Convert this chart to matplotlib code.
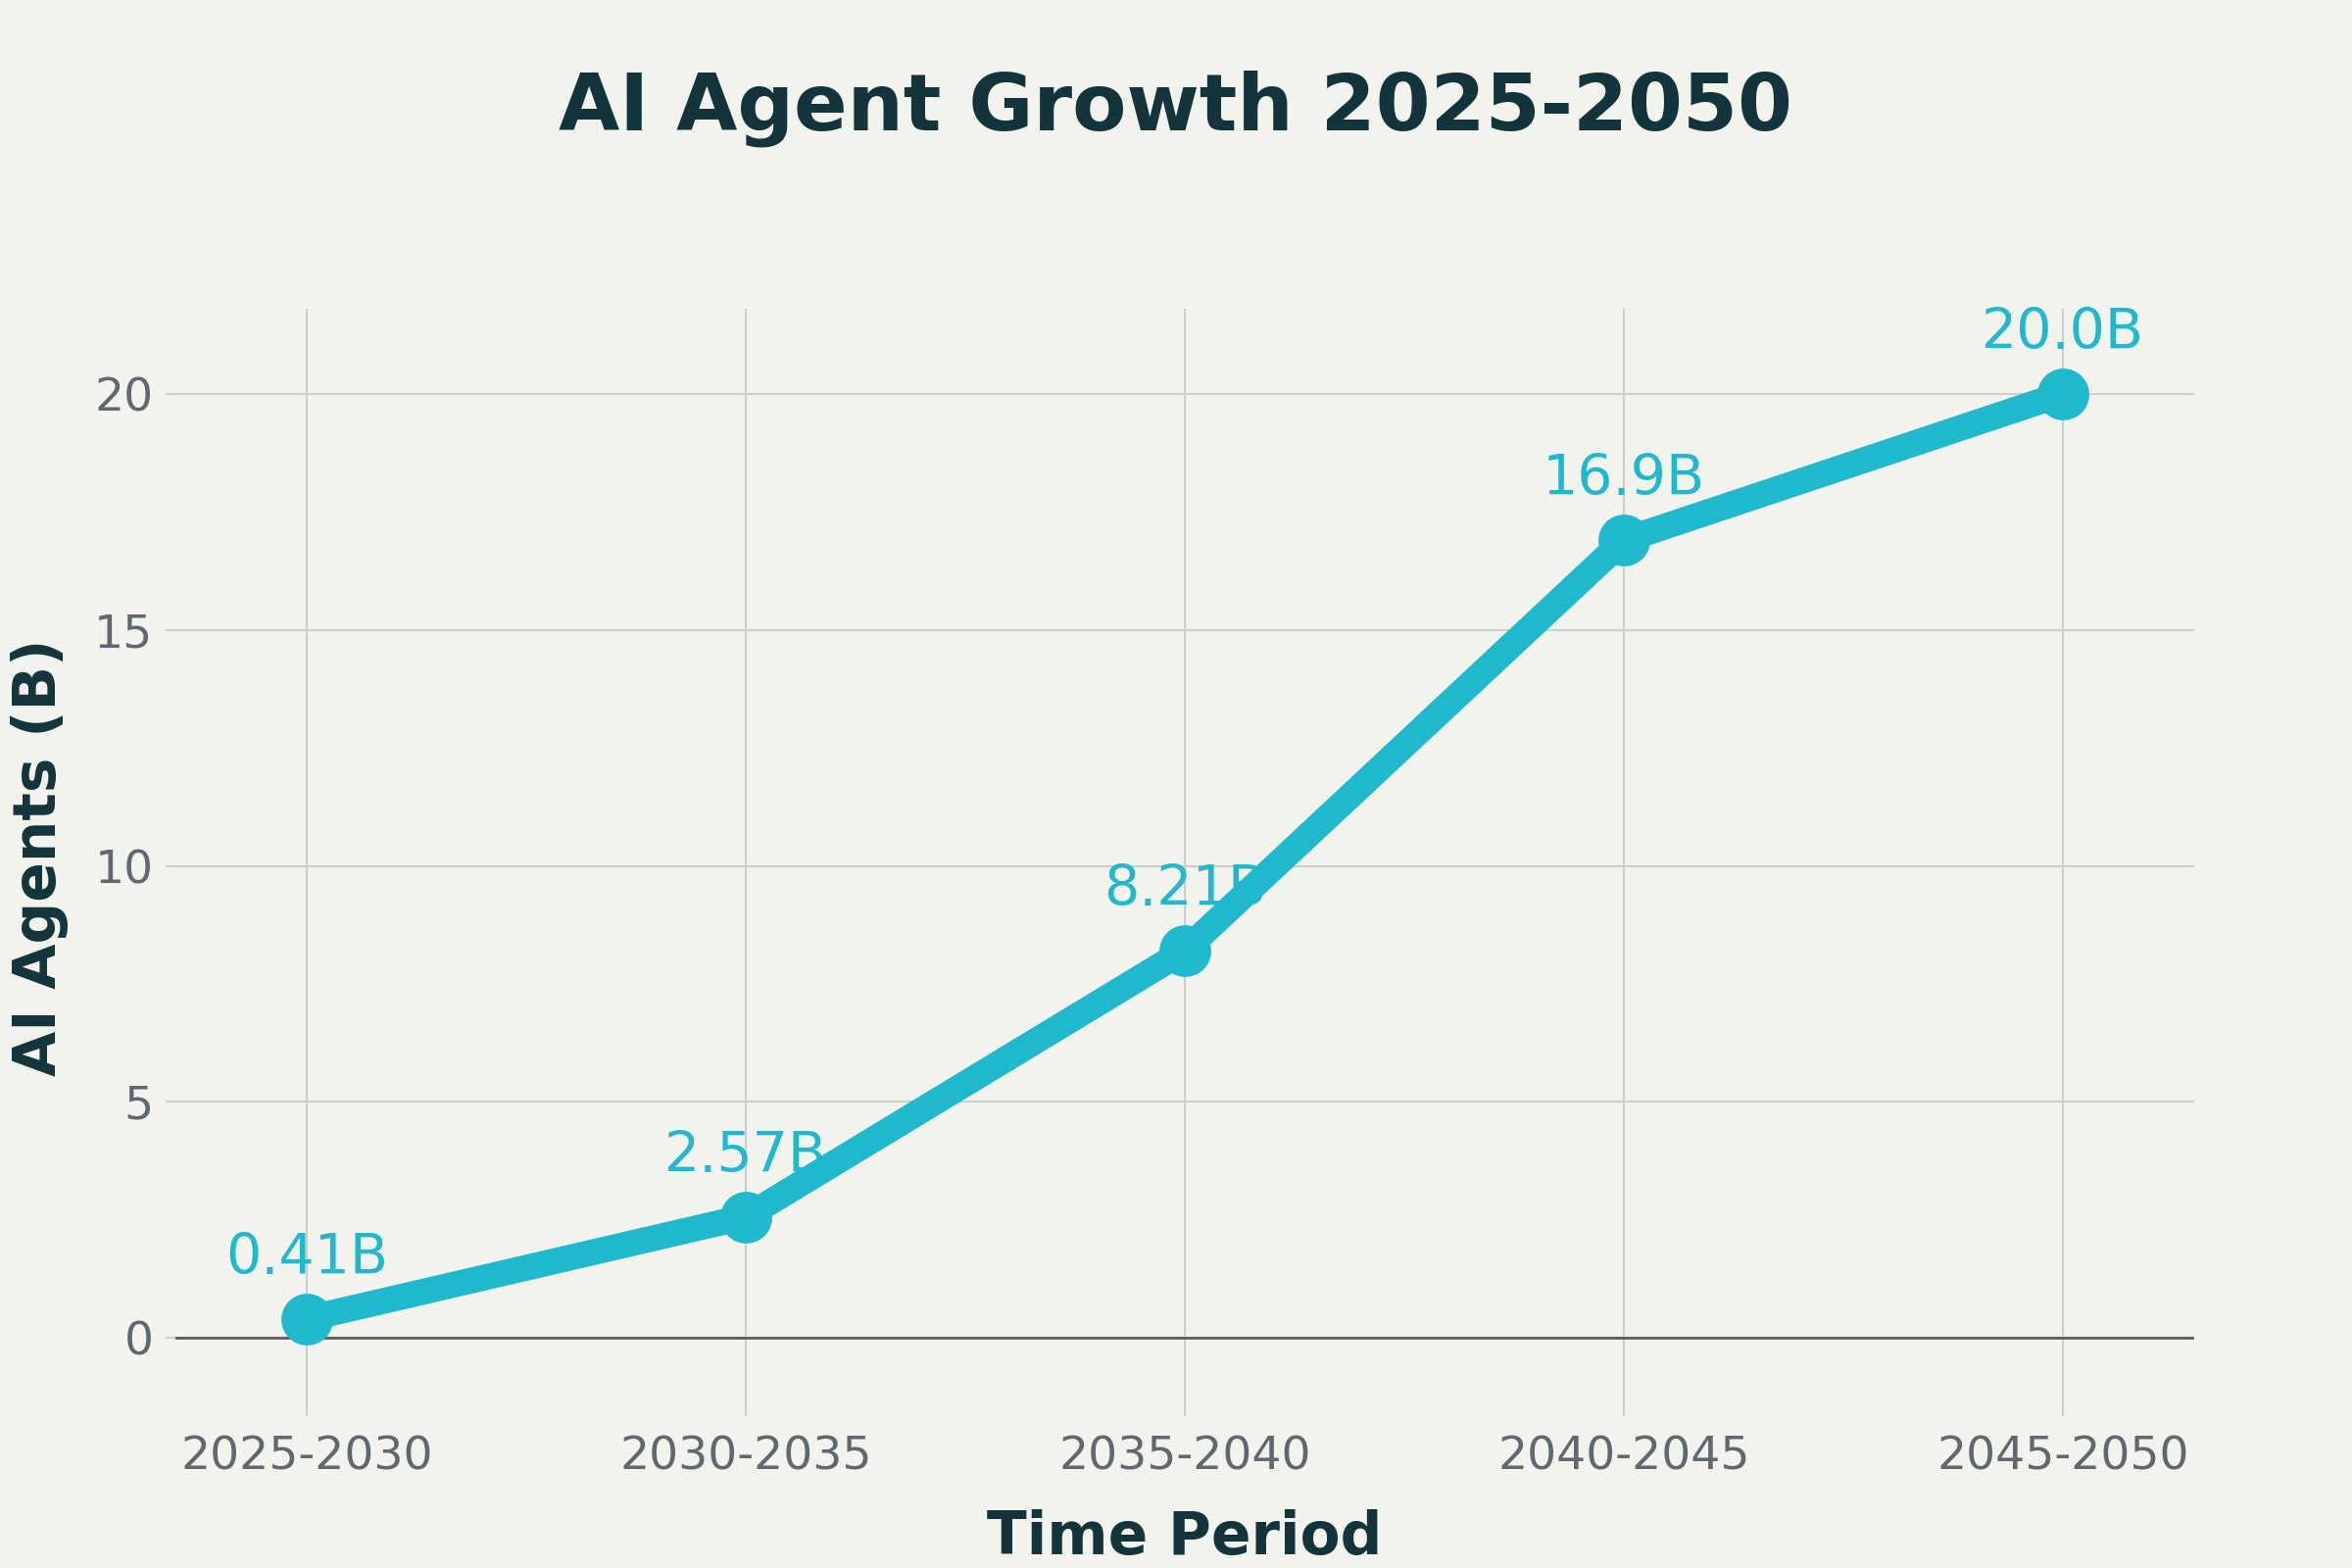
import matplotlib.pyplot as plt

periods = ['2025-2030', '2030-2035', '2035-2040', '2040-2045', '2045-2050']
agents_b = [0.41, 2.57, 8.21, 16.9, 20.0]
point_labels = ['0.41B', '2.57B', '8.21B', '16.9B', '20.0B']

BG = '#F3F3EE'
LINE = '#1FB8CD'
DARK = '#13343B'
TICK_TXT = '#5F686E'
GRID = '#CFCFCA'

fig = plt.figure(figsize=(12, 8), dpi=200, facecolor=BG)
ax = fig.add_axes([0.0746, 0.103, 0.8584, 0.7])
ax.set_facecolor(BG)

x = list(range(len(periods)))
ax.plot(x, agents_b, color=LINE, linewidth=9.5, marker='o', markersize=18,
        solid_joinstyle='round', zorder=3)

# value labels sit behind the line, like the original
for xi, yi, lab in zip(x, agents_b, point_labels):
    ax.annotate(lab, (xi, yi), xytext=(0, 16.5), textcoords='offset points',
                ha='center', va='baseline', fontsize=20.5, color=LINE, zorder=2)

ax.axhline(0, color='#5C5C5C', linewidth=1.0, zorder=2)

ax.set_xlim(-0.3, 4.3)
ax.set_ylim(-1.45, 21.8)
ax.set_xticks(x)
ax.set_xticklabels(periods)
ax.set_yticks([0, 5, 10, 15, 20])

ax.grid(True, color=GRID, linewidth=0.75, zorder=0)
ax.set_axisbelow(True)
for s in ax.spines.values():
    s.set_visible(False)
ax.tick_params(axis='both', colors=GRID, labelcolor=TICK_TXT, labelsize=17,
               length=3.6, width=0.75)
ax.tick_params(axis='x', pad=7)
ax.tick_params(axis='y', pad=4.5)

ax.set_xlabel('Time Period', fontsize=21.5, fontweight='bold', color=DARK, va='baseline')
ax.set_ylabel('AI Agents (B)', fontsize=21.5, fontweight='bold', color=DARK, va='baseline')
ax.xaxis.set_label_coords(0.5, -0.135)
ax.yaxis.set_label_coords(-0.0592, 0.5)

fig.text(0.5, 0.9175, 'AI Agent Growth 2025-2050', ha='center', va='baseline',
         fontsize=29, fontweight='bold', color=DARK)

fig.savefig('out.png', dpi=200, facecolor=BG)
